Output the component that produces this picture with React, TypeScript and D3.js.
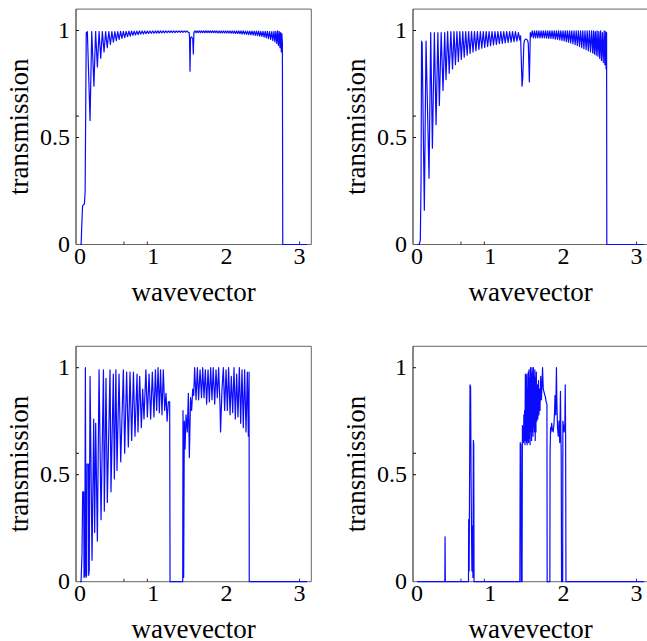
import React from "react";
import * as d3 from "d3";

type Pt = [number, number];

const xTickLabels = [0, 1, 2, 3];
const yTickLabels = [0, 0.5, 1];
const xMinorTicks = [0.6, 0.92, 3];
const yMinorTicks = [0.5, 0.6, 1];

const panel1: Pt[] = [
  [0,0],[0.015,0],[0.025,0.1],[0.035,0.18],[0.06,0.19],[0.07,0.25],[0.085,0.99],[0.1,0.995],
  [0.137,0.58],[0.16,0.995],[0.19,0.74],[0.213,0.995],[0.237,0.83],[0.26,0.995],[0.283,0.87],[0.305,0.995],
  [0.328,0.9],[0.35,0.995],[0.372,0.92],[0.393,0.995],[0.415,0.935],[0.435,0.995],[0.456,0.945],[0.476,0.995],
  [0.496,0.952],[0.515,0.995],[0.535,0.958],[0.554,0.996],[0.573,0.963],[0.592,0.996],[0.611,0.967],[0.63,0.996],
  [0.649,0.971],[0.668,0.997],[0.686,0.974],[0.704,0.997],[0.722,0.977],[0.74,0.997],[0.758,0.979],[0.776,0.997],
  [0.794,0.981],[0.812,0.998],[0.83,0.983],[0.848,0.998],[0.866,0.984],[0.884,0.998],[0.902,0.985],[0.92,0.998],
  [0.938,0.986],[0.956,0.998],[0.974,0.987],[0.992,0.998],[1.01,0.987],[1.028,0.998],[1.046,0.988],[1.064,0.998],
  [1.082,0.988],[1.1,0.998],[1.118,0.989],[1.136,0.998],[1.154,0.989],[1.172,0.998],[1.19,0.99],[1.208,0.998],
  [1.226,0.99],[1.244,0.998],[1.262,0.99],[1.28,0.998],[1.298,0.99],[1.316,0.998],[1.334,0.991],[1.352,0.998],
  [1.37,0.991],[1.388,0.998],[1.406,0.991],[1.424,0.998],[1.442,0.992],[1.46,0.998],[1.478,0.992],[1.49,0.99],
  [1.496,0.97],[1.503,0.81],[1.51,0.965],[1.525,0.97],[1.54,0.96],[1.548,0.89],[1.556,0.99],[1.57,0.998],
  [1.585,0.99],[1.6,0.998],[1.615,0.99],[1.63,0.998],[1.645,0.99],[1.66,0.998],[1.675,0.99],[1.69,0.998],
  [1.705,0.99],[1.72,0.998],[1.735,0.99],[1.75,0.998],[1.765,0.99],[1.78,0.998],[1.795,0.99],[1.81,0.998],
  [1.825,0.99],[1.84,0.998],[1.855,0.99],[1.87,0.998],[1.885,0.989],[1.9,0.998],[1.915,0.989],[1.93,0.998],
  [1.945,0.989],[1.96,0.998],[1.975,0.989],[1.99,0.998],[2.005,0.988],[2.02,0.998],[2.035,0.988],[2.05,0.998],
  [2.065,0.987],[2.08,0.998],[2.095,0.987],[2.11,0.998],[2.125,0.986],[2.14,0.998],[2.155,0.986],[2.17,0.998],
  [2.185,0.985],[2.2,0.998],[2.215,0.984],[2.23,0.998],[2.245,0.983],[2.26,0.997],[2.275,0.982],[2.29,0.997],
  [2.305,0.981],[2.32,0.997],[2.335,0.98],[2.35,0.997],[2.365,0.979],[2.38,0.997],[2.395,0.977],[2.41,0.997],
  [2.425,0.976],[2.44,0.997],[2.455,0.974],[2.47,0.996],[2.485,0.972],[2.5,0.996],[2.515,0.969],[2.53,0.996],
  [2.545,0.966],[2.56,0.996],[2.575,0.962],[2.59,0.995],[2.605,0.958],[2.62,0.995],[2.635,0.953],[2.65,0.996],
  [2.663,0.947],[2.676,0.996],[2.688,0.94],[2.7,0.998],[2.711,0.93],[2.722,0.995],[2.732,0.92],[2.741,0.99],
  [2.75,0.9],[2.758,0.985],[2.765,0.94],[2.77,0],[3.1,0]
];

const panel2: Pt[] = [
  [0,0],[0.03,0],[0.045,0.02],[0.055,0.3],[0.062,0.95],[0.07,0.94],[0.1,0.16],[0.123,0.95],
  [0.164,0.31],[0.187,0.99],[0.21,0.45],[0.237,0.99],[0.26,0.56],[0.285,0.99],[0.305,0.65],[0.33,0.99],
  [0.355,0.72],[0.378,0.99],[0.396,0.77],[0.418,0.995],[0.44,0.8],[0.462,0.995],[0.485,0.82],[0.505,0.995],
  [0.525,0.84],[0.545,0.995],[0.565,0.855],[0.585,0.995],[0.605,0.865],[0.625,0.995],[0.645,0.875],[0.665,0.995],
  [0.685,0.885],[0.705,0.995],[0.725,0.893],[0.745,0.995],[0.765,0.9],[0.785,0.995],[0.805,0.906],[0.825,0.995],
  [0.845,0.912],[0.865,0.995],[0.885,0.917],[0.905,0.995],[0.925,0.921],[0.945,0.995],[0.965,0.925],[0.985,0.995],
  [1.005,0.929],[1.025,0.995],[1.045,0.932],[1.065,0.995],[1.085,0.935],[1.105,0.995],[1.125,0.938],[1.145,0.995],
  [1.165,0.94],[1.185,0.995],[1.205,0.942],[1.225,0.995],[1.245,0.944],[1.265,0.995],[1.285,0.946],[1.305,0.995],
  [1.325,0.948],[1.345,0.995],[1.365,0.95],[1.385,0.99],[1.405,0.955],[1.415,0.975],[1.435,0.74],[1.445,0.78],
  [1.46,0.94],[1.47,0.955],[1.49,0.96],[1.51,0.955],[1.52,0.94],[1.535,0.76],[1.548,0.99],[1.56,0.97],
  [1.575,0.998],[1.59,0.965],[1.605,0.998],[1.62,0.965],[1.635,0.998],[1.65,0.965],[1.665,0.998],[1.68,0.965],
  [1.695,0.998],[1.71,0.965],[1.725,0.998],[1.74,0.965],[1.755,0.998],[1.77,0.964],[1.785,0.998],[1.8,0.963],
  [1.815,0.998],[1.83,0.963],[1.845,0.998],[1.86,0.962],[1.875,0.998],[1.89,0.96],[1.905,0.998],[1.92,0.958],
  [1.935,0.998],[1.95,0.956],[1.965,0.998],[1.98,0.954],[1.995,0.998],[2.01,0.951],[2.025,0.998],[2.04,0.948],
  [2.055,0.998],[2.07,0.945],[2.085,0.998],[2.1,0.942],[2.115,0.998],[2.13,0.938],[2.145,0.998],[2.16,0.934],
  [2.175,0.998],[2.19,0.93],[2.205,0.998],[2.22,0.925],[2.235,0.998],[2.25,0.92],[2.265,0.998],[2.28,0.915],
  [2.295,0.998],[2.31,0.91],[2.325,0.998],[2.34,0.905],[2.355,0.998],[2.37,0.9],[2.385,0.998],[2.4,0.895],
  [2.412,0.998],[2.424,0.89],[2.436,0.995],[2.448,0.885],[2.46,0.998],[2.472,0.88],[2.484,0.995],[2.496,0.87],
  [2.508,0.998],[2.52,0.86],[2.532,0.99],[2.544,0.85],[2.556,0.998],[2.566,0.84],[2.576,0.995],[2.583,0.82],
  [2.59,0.99],[2.593,0],[3.1,0]
];

const panel3: Pt[] = [
  [0,0],[0.014,0],[0.027,0.13],[0.036,0.42],[0.05,0.42],[0.055,0.02],[0.065,0.03],[0.073,1.0],
  [0.082,0.02],[0.09,0.03],[0.096,0.55],[0.115,0.55],[0.118,0.03],[0.126,0.05],[0.137,0.96],[0.164,0.1],
  [0.187,0.76],[0.2,0.23],[0.214,0.74],[0.237,0.19],[0.26,0.99],[0.287,0.29],[0.32,0.99],[0.332,0.33],
  [0.355,0.95],[0.373,0.37],[0.41,0.99],[0.423,0.42],[0.455,0.97],[0.469,0.48],[0.49,0.99],[0.505,0.52],
  [0.533,0.97],[0.556,0.56],[0.592,0.99],[0.61,0.6],[0.637,0.98],[0.66,0.63],[0.683,0.98],[0.706,0.66],
  [0.73,0.98],[0.751,0.68],[0.779,0.97],[0.792,0.7],[0.815,0.96],[0.838,0.72],[0.856,0.9],[0.874,0.76],
  [0.9,0.99],[0.92,0.77],[0.943,0.97],[0.965,0.76],[0.988,0.98],[1.01,0.77],[1.03,0.99],[1.047,0.8],
  [1.066,1.0],[1.084,0.79],[1.1,0.99],[1.12,0.78],[1.138,0.99],[1.157,0.8],[1.175,0.88],[1.19,0.75],
  [1.207,0.84],[1.225,0.84],[1.23,0],[1.403,0],[1.407,0.8],[1.416,0.02],[1.425,0.75],[1.435,0.62],
  [1.448,0.78],[1.466,0.7],[1.48,0.88],[1.494,0.58],[1.51,0.86],[1.525,0.8],[1.54,0.9],[1.553,0.87],
  [1.566,1.0],[1.585,0.85],[1.603,1.0],[1.62,0.85],[1.64,0.99],[1.66,0.86],[1.676,1.0],[1.694,0.86],
  [1.712,0.99],[1.73,0.83],[1.749,0.99],[1.767,0.84],[1.785,1.0],[1.803,0.85],[1.82,1.0],[1.84,0.83],
  [1.858,0.99],[1.876,0.86],[1.894,1.0],[1.913,0.82],[1.92,0.7],[1.94,0.9],[1.958,1.0],[1.976,0.8],
  [1.995,0.99],[2.013,0.8],[2.03,1.0],[2.05,0.78],[2.067,0.96],[2.086,0.79],[2.104,1.0],[2.122,0.76],
  [2.14,0.97],[2.158,0.77],[2.177,1.0],[2.195,0.74],[2.213,0.99],[2.231,0.72],[2.249,0.99],[2.268,0.7],
  [2.286,0.98],[2.3,0.68],[2.31,0.98],[2.312,0],[3.1,0]
];

const panel4: Pt[] = [
  [0,0],[0.38,0],[0.383,0.21],[0.387,0],[0.703,0],[0.706,0.29],[0.712,0.05],[0.72,0.6],
  [0.724,0.92],[0.732,0.91],[0.738,0.5],[0.744,0.26],[0.75,0.05],[0.756,0.26],[0.764,0.02],[0.77,0.66],
  [0.775,0.64],[0.779,0],[1.405,0],[1.41,0.65],[1.42,0.64],[1.425,0],[1.435,0],[1.44,0.73],
  [1.445,0.66],[1.45,0.72],[1.455,0.65],[1.46,0.78],[1.465,0.66],[1.47,0.8],[1.475,0.64],[1.48,0.97],
  [1.485,0.66],[1.49,0.96],[1.495,0.65],[1.5,0.97],[1.505,0.64],[1.51,0.9],[1.515,0.66],[1.52,0.98],
  [1.525,0.65],[1.53,0.99],[1.535,0.67],[1.54,0.95],[1.545,0.64],[1.55,1.0],[1.555,0.7],[1.56,0.97],
  [1.565,0.66],[1.57,1.0],[1.575,0.7],[1.58,0.98],[1.585,0.68],[1.59,1.0],[1.595,0.72],[1.6,0.96],
  [1.605,0.7],[1.61,0.99],[1.615,0.66],[1.62,0.95],[1.625,0.7],[1.63,0.98],[1.635,0.75],[1.645,0.92],
  [1.65,0.76],[1.66,0.94],[1.665,0.78],[1.675,0.9],[1.68,0.8],[1.69,0.96],[1.7,0.85],[1.715,1.0],
  [1.725,0.9],[1.74,0.88],[1.755,0.86],[1.765,0.84],[1.775,0.83],[1.778,0],[1.815,0],[1.818,0.6],
  [1.825,0.72],[1.83,0.7],[1.84,0.74],[1.85,0.71],[1.86,0.7],[1.87,0.73],[1.88,0.8],[1.885,0.87],
  [1.895,0.78],[1.905,1.0],[1.91,0.85],[1.92,0.72],[1.93,0.68],[1.94,0.75],[1.95,0.65],[1.96,0.89],
  [1.965,0.7],[1.97,0.6],[1.975,0],[1.99,0],[1.993,0.75],[2.0,0.73],[2.01,0.7],[2.02,0.74],
  [2.025,0.92],[2.03,0.7],[2.035,0],[3.1,0]
];

const panels = [panel1, panel2, panel3, panel4];
const lefts = [76, 413, 76, 413];
const tops = [9.1, 9.1, 346.3, 346.3];
const PW = 235.3;
const PH = 235.4;
const FONT = "Liberation Serif";

function Panel({ data, left, top }: { data: Pt[]; left: number; top: number }) {
  const x = d3.scaleLinear().domain([-0.055, 3.16]).range([left, left + PW]);
  const y = d3.scaleLinear().domain([0, 1.1]).range([top + PH, top]);
  const bottom = top + PH;
  const right = left + PW;
  const line = d3
    .line<Pt>()
    .x((d) => x(d[0]))
    .y((d) => y(d[1]));
  return (
    <g>
      <line x1={left} x2={right} y1={top} y2={top} stroke="#666" strokeWidth={1} />
      <line x1={right} x2={right} y1={top} y2={bottom} stroke="#666" strokeWidth={1} />
      <line x1={left} x2={right} y1={bottom} y2={bottom} stroke="#666" strokeWidth={1} />
      <line x1={left} x2={left} y1={top} y2={bottom} stroke="#111" strokeWidth={1} />
      {yMinorTicks.map((v) => (
        <line key={"yt" + v} x1={left} x2={left + 3} y1={y(v)} y2={y(v)} stroke="#111" strokeWidth={1} />
      ))}
      {xMinorTicks.map((v) => (
        <line key={"xt" + v} x1={x(v)} x2={x(v)} y1={bottom} y2={bottom - 3} stroke="#333" strokeWidth={1} />
      ))}
      <path d={line(data) || ""} fill="none" stroke="#0a0aff" strokeWidth={1.2} strokeLinejoin="round" />
      {yTickLabels.map((v) => (
        <text key={"yl" + v} x={left - 6} y={y(v) + 7.5} textAnchor="end" fontFamily={FONT} fontSize={24} fill="#000">
          {String(v)}
        </text>
      ))}
      {xTickLabels.map((v) => (
        <text key={"xl" + v} x={x(v)} y={bottom + 19} textAnchor="middle" fontFamily={FONT} fontSize={24} fill="#000">
          {String(v)}
        </text>
      ))}
      <text
        transform={`translate(${left - 48},${(top + bottom) / 2}) rotate(-90)`}
        textAnchor="middle"
        fontFamily={FONT}
        fontSize={27}
        fill="#000"
      >
        transmission
      </text>
      <text x={(left + right) / 2} y={bottom + 56} textAnchor="middle" fontFamily={FONT} fontSize={27} fill="#000">
        wavevector
      </text>
    </g>
  );
}

export default function App() {
  return (
    <svg width={647} height={641} style={{ position: "absolute", left: 0, top: 0, background: "#fff" }}>
      <rect x={0} y={0} width={647} height={641} fill="#fff" />
      {panels.map((p, i) => (
        <Panel key={i} data={p} left={lefts[i]} top={tops[i]} />
      ))}
    </svg>
  );
}
